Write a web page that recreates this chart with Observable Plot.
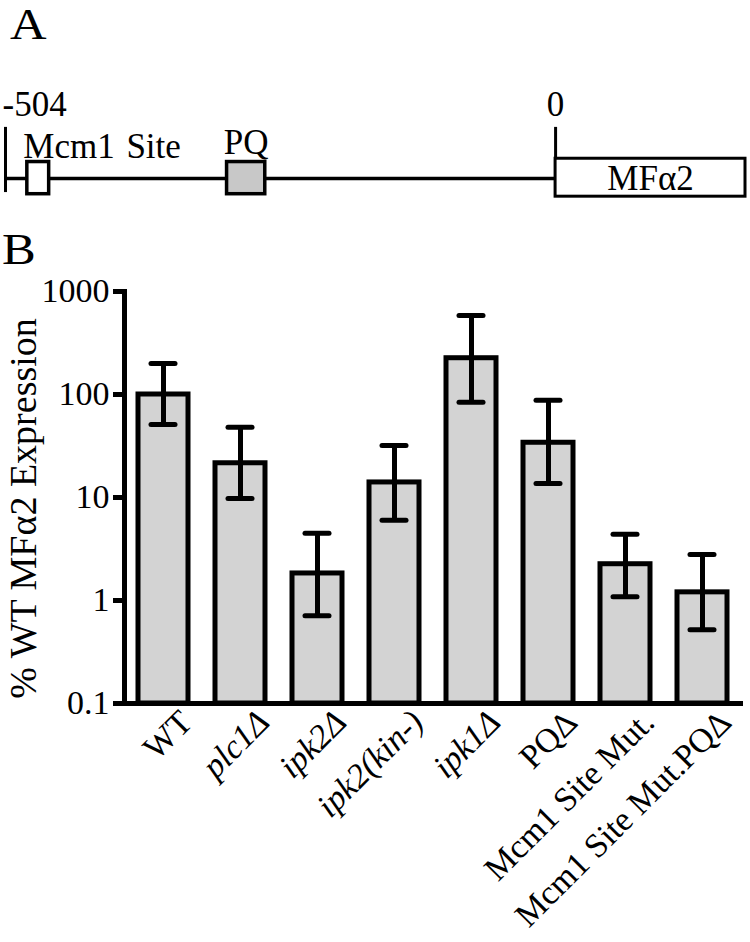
<!DOCTYPE html>
<html><head><meta charset="utf-8">
<script src="https://cdn.jsdelivr.net/npm/d3@7"></script>
<script src="https://cdn.jsdelivr.net/npm/@observablehq/plot@0.6"></script>
<style>
body{margin:0;background:#fff;}
#wrap{position:relative;width:750px;height:942px;overflow:hidden;font-family:"Liberation Serif","Times New Roman",serif;color:#000;}
.panel{position:absolute;left:0;}
.letter{position:absolute;line-height:1;font-size:44px;transform:scaleX(1.15);transform-origin:left top;}
</style></head><body>
<div id="wrap">
 <div id="a" class="panel" style="top:0"></div>
 <div id="b" class="panel" style="top:230px"></div>
 <div class="letter" style="left:10px;top:3px">A</div>
 <div class="letter" style="left:2px;top:228px">B</div>
</div>
<script>
// ---------- Panel A: promoter schematic (positions in bp) ----------
const promoterStart = -504;
const positionTicks = [-504, 0];
const positionLabels = ["-504", "0"];
const siteNames = ["Mcm1\u00a0\u200aSite", "PQ"];
const siteStart = [-484, -301];
const siteEnd = [-464, -266];
const siteFill = ["white", "#c8c8c8"];
const geneName = "MFα2";
const geneStart = 0;
const geneEnd = 174;

// ---------- Panel B: expression data ----------
const strains = ["WT", "plc1Δ", "ipk2Δ", "ipk2(kin-)", "ipk1Δ", "PQΔ", "Mcm1 Site Mut.", "Mcm1 Site Mut.PQΔ"];
const italicLabel = [false, true, true, true, true, false, false, false];
const expression = [100, 21.5, 1.83, 14, 225, 34, 2.25, 1.2];
const errLow = [51, 9.8, 0.71, 6.0, 84, 13.7, 1.09, 0.52];
const errHigh = [200, 48, 4.5, 32, 585, 88, 4.4, 2.8];
const yTicks = [0.1, 1, 10, 100, 1000];
const yTickLabels = ["0.1", "1", "10", "100", "1000"];
const yTitle = "% WT MFα2 Expression";

const FONT = '"Liberation Serif","Times New Roman",serif';

// ---- Panel A ----
const sites = siteNames.map((name, i) => ({name, start: siteStart[i], end: siteEnd[i], fill: siteFill[i]}));
const ticksA = positionTicks.map((p, i) => ({p, label: positionLabels[i]}));
const gene = [{name: geneName, start: geneStart, end: geneEnd}];

const plotA = Plot.plot({
  width: 750, height: 215,
  marginLeft: 5, marginRight: 5, marginTop: 0, marginBottom: 0,
  style: {fontFamily: FONT, background: "white", color: "black"},
  x: {domain: [promoterStart, geneEnd], axis: null},
  y: {domain: [-2.24, 10.79], axis: null},
  color: {type: "identity"},
  marks: [
    Plot.ruleY([0], {x1: promoterStart, x2: geneStart, stroke: "black", strokeWidth: 3.5}),
    Plot.ruleX(ticksA, {x: "p", y1: -0.85, y2: 3.1, stroke: "black", strokeWidth: 3}),
    Plot.rect(sites, {x1: "start", x2: "end", y1: -0.95, y2: 1, fill: "fill", stroke: "black", strokeWidth: 3.5}),
    Plot.rect(gene, {x1: "start", x2: "end", y1: -1.1, y2: 1.2, fill: "white", stroke: "black", strokeWidth: 3}),
    Plot.text(ticksA.slice(0, 1), {x: "p", y: 3.82, text: "label", textAnchor: "start", dx: -3, fontSize: 35, lineAnchor: "bottom", fill: "black"}),
    Plot.text(ticksA.slice(1), {x: "p", y: 3.82, text: "label", textAnchor: "middle", fontSize: 35, lineAnchor: "bottom", fill: "black"}),
    Plot.text(sites.slice(0, 1), {x: "start", y: 1.27, text: "name", textAnchor: "start", dx: -4, fontSize: 35, lineAnchor: "bottom", fill: "black"}),
    Plot.text(sites.slice(1), {x: d => (d.start + d.end) / 2, y: 1.5, text: "name", textAnchor: "middle", fontSize: 35, lineAnchor: "bottom", fill: "black"}),
    Plot.text(gene, {x: d => (d.start + d.end) / 2, y: -0.67, text: "name", textAnchor: "middle", fontSize: 35, lineAnchor: "bottom", fill: "black"})
  ]
});
document.getElementById("a").append(plotA);

// ---- Panel B ----
const data = strains.map((s, i) => ({strain: s, italic: italicLabel[i], value: expression[i], low: errLow[i], high: errHigh[i]}));
const yFloor = yTicks[0];

const plotB = Plot.plot({
  width: 750, height: 712,
  marginLeft: 124, marginRight: 8, marginTop: 61, marginBottom: 239,
  style: {fontFamily: FONT, background: "white", color: "black", fontSize: "34px"},
  x: {domain: strains, paddingInner: 0.35, paddingOuter: 0.18, axis: null},
  y: {type: "log", domain: [yTicks[0], yTicks[yTicks.length - 1]], axis: null},
  marks: [
    Plot.barY(data, {x: "strain", y1: yFloor, y2: "value", fill: "#d3d3d3", stroke: "black", strokeWidth: 5}),
    Plot.ruleX(data, {x: "strain", y1: "low", y2: "high", stroke: "black", strokeWidth: 5}),
    Plot.tickY(data, {x: "strain", y: "high", stroke: "black", strokeWidth: 5, strokeLinecap: "round", insetLeft: 13, insetRight: 13}),
    Plot.tickY(data, {x: "strain", y: "low", stroke: "black", strokeWidth: 5, strokeLinecap: "round", insetLeft: 13, insetRight: 13}),
    Plot.axisY({ticks: yTicks, tickFormat: (d) => yTickLabels[yTicks.indexOf(d)], tickSize: 11, tickPadding: 4,
      fontSize: 34, strokeWidth: 5, label: null, fill: "black", stroke: "black"}),
    Plot.frame({anchor: "left", stroke: "black", strokeWidth: 5}),
    Plot.ruleY([yFloor], {stroke: "black", strokeWidth: 5, insetRight: -1}),
    Plot.text(data.filter(d => d.italic), {x: "strain", text: "strain", frameAnchor: "bottom", rotate: -45,
      textAnchor: "end", lineAnchor: "middle", dx: 23, dy: 13, fontSize: 34, fontStyle: "italic", fill: "black"}),
    Plot.text(data.filter(d => !d.italic), {x: "strain", text: "strain", frameAnchor: "bottom", rotate: -45,
      textAnchor: "end", lineAnchor: "middle", dx: 23, dy: 13, fontSize: 34, fill: "black"}),
    Plot.text([yTitle], {text: d => d, frameAnchor: "left", rotate: -90, textAnchor: "middle", lineAnchor: "middle",
      dx: -101, dy: 11, fontSize: 38, fill: "black"})
  ]
});
document.getElementById("b").append(plotB);
</script>
</body></html>
